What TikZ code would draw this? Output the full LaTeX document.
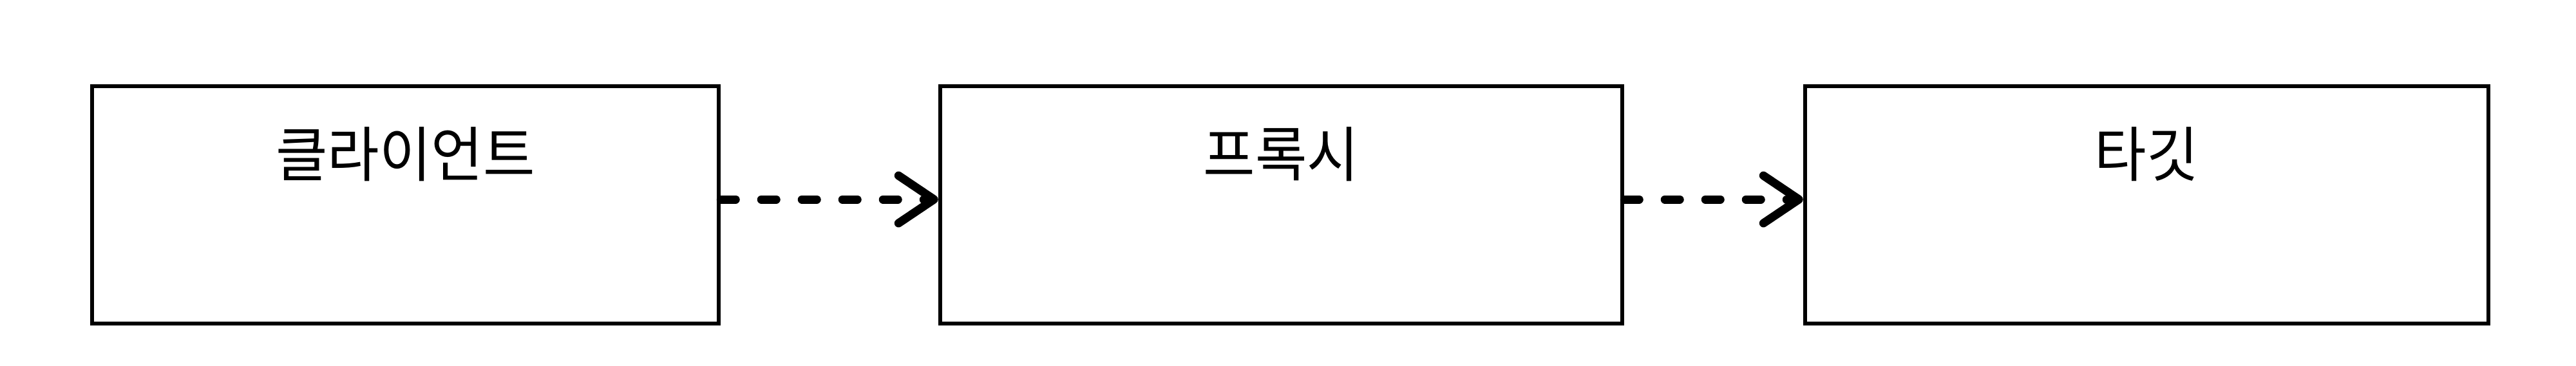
\documentclass[tikz,border=0pt]{standalone}
\usepackage{fontspec}
\newfontfamily\krfont[FakeStretch=0.94]{Noto Sans CJK KR}
\usetikzlibrary{arrows.meta,calc}
\begin{document}
\begin{tikzpicture}[x=1cm,y=1cm,
  box/.style={draw=black, line width=0.065cm, fill=white, inner sep=0pt, minimum height=3.69cm},
  lbl/.style={font=\krfont\fontsize{26.5pt}{31pt}\selectfont, anchor=base, inner sep=0pt},
  conn/.style={line width=0.13cm, line cap=round, dash pattern=on 0.23cm off 0.40cm,
     -{Straight Barb[length=0.55cm, width=0.74cm, line cap=round, line join=round]}}
]
\useasboundingbox (0,0) rectangle (40,5.68);
\node[box, minimum width=9.73cm] (b1) at (6.295,2.495) {};
\node[box, minimum width=10.59cm] (b2) at (19.895,2.495) {};
\node[box, minimum width=10.61cm] (b3) at (33.335,2.495) {};
\node[lbl] (t1) at ($(b1.north)+(0,-1.44)$) {클라이언트};
\node[lbl] (t2) at ($(b2.north)+(0,-1.44)$) {프록시};
\node[lbl] (t3) at ($(b3.north)+(0,-1.44)$) {타깃};
\draw[conn] ($(b1.east)+(0,0.085)$) -- ($(b2.west)+(0,0.085)$);
\draw[conn] ($(b2.east)+(0,0.085)$) -- ($(b3.west)+(0,0.085)$);
\end{tikzpicture}
\end{document}
